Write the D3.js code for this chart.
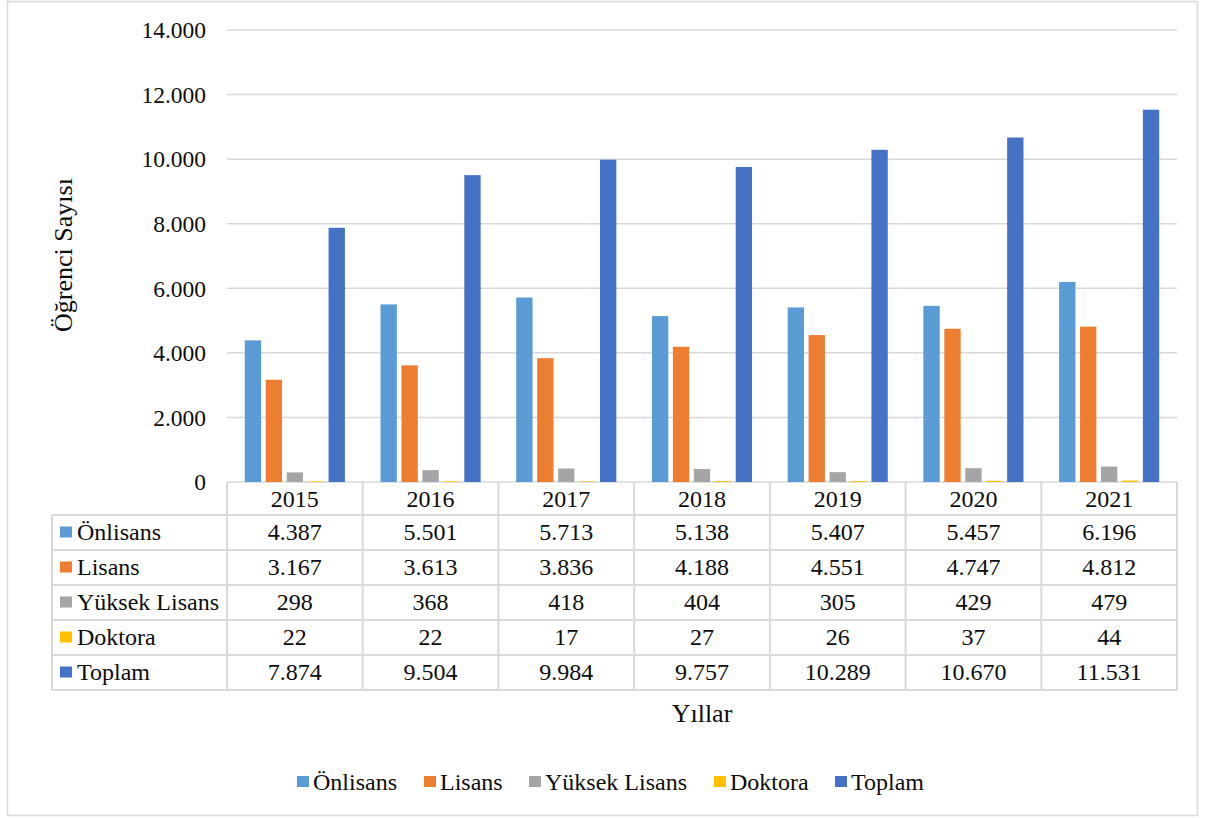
<!DOCTYPE html>
<html>
<head>
<meta charset="utf-8">
<script src="https://cdn.jsdelivr.net/npm/d3@7"></script>
<style>
  body { margin: 0; background: #fff; }
  text { font-family: "Liberation Serif", "Times New Roman", serif; }
</style>
</head>
<body>
<svg id="chart" width="1205" height="818"></svg>
<script>
const years = ["2015", "2016", "2017", "2018", "2019", "2020", "2021"];
const seriesNames = ["Önlisans", "Lisans", "Yüksek Lisans", "Doktora", "Toplam"];
const seriesColors = ["#5B9BD5", "#ED7D31", "#A5A5A5", "#FFC000", "#4472C4"];
const onlisans = [4387, 5501, 5713, 5138, 5407, 5457, 6196];
const lisans = [3167, 3613, 3836, 4188, 4551, 4747, 4812];
const yuksekLisans = [298, 368, 418, 404, 305, 429, 479];
const doktora = [22, 22, 17, 27, 26, 37, 44];
const toplam = [7874, 9504, 9984, 9757, 10289, 10670, 11531];
const yTicks = [0, 2000, 4000, 6000, 8000, 10000, 12000, 14000];

const allSeries = [onlisans, lisans, yuksekLisans, doktora, toplam];
const fmt = v => v.toLocaleString("tr-TR");
const FONT = "Liberation Serif, Times New Roman, serif";
const INK = "#0d0d0d";

const svg = d3.select("#chart");

// chart border
svg.append("rect")
  .attr("x", 7.5).attr("y", 1.5).attr("width", 1190).attr("height", 814)
  .attr("fill", "#fff").attr("stroke", "#d9d9d9").attr("stroke-width", 1.5);

const plot = { left: 227, right: 1177, top: 30, bottom: 482 };

const x = d3.scaleBand().domain(years).range([plot.left, plot.right]).paddingInner(0).paddingOuter(0);
const xs = d3.scaleBand().domain(seriesNames).range([0, x.bandwidth()]).paddingInner(0.22).paddingOuter(0.85);
const y = d3.scaleLinear().domain([0, 14000]).range([plot.bottom, plot.top]);

// gridlines
svg.append("g").selectAll("line").data(yTicks).join("line")
  .attr("x1", plot.left).attr("x2", plot.right)
  .attr("y1", d => y(d)).attr("y2", d => y(d))
  .attr("stroke", "#d9d9d9").attr("stroke-width", 1.5);

// y tick labels
svg.append("g").selectAll("text").data(yTicks).join("text")
  .attr("x", 206).attr("y", d => y(d)).attr("dy", "0.35em")
  .attr("text-anchor", "end").attr("font-family", FONT).attr("font-size", 23.5).attr("fill", INK)
  .text(d => fmt(d));

// y title
svg.append("text")
  .attr("transform", "translate(72,255) rotate(-90)")
  .attr("text-anchor", "middle").attr("font-family", FONT).attr("font-size", 26).attr("fill", INK)
  .text("Öğrenci Sayısı");

// bars
const groups = svg.append("g").selectAll("g").data(years).join("g")
  .attr("transform", d => `translate(${x(d)},0)`);
groups.selectAll("rect")
  .data((d, i) => seriesNames.map((s, k) => ({ s, k, v: allSeries[k][i] })))
  .join("rect")
  .attr("x", d => xs(d.s)).attr("width", xs.bandwidth())
  .attr("y", d => y(d.v)).attr("height", d => y(0) - y(d.v))
  .attr("fill", d => seriesColors[d.k]);

// data table
const rowH = 35, headH = 33;
const tableLeft = 52;
const tbl = svg.append("g");
const lineColor = "#d9d9d9";
const tableBottom = plot.bottom + headH + rowH * seriesNames.length;

const hLines = [plot.bottom + headH].concat(d3.range(1, seriesNames.length + 1).map(i => plot.bottom + headH + rowH * i));
tbl.selectAll("line.h").data(hLines).join("line")
  .attr("x1", tableLeft).attr("x2", plot.right)
  .attr("y1", d => d).attr("y2", d => d)
  .attr("stroke", lineColor).attr("stroke-width", 2);
const vLines = years.map(yr => x(yr)).concat([plot.right]);
tbl.selectAll("line.v").data(vLines).join("line")
  .attr("x1", d => d).attr("x2", d => d)
  .attr("y1", plot.bottom).attr("y2", tableBottom)
  .attr("stroke", lineColor).attr("stroke-width", 2);
tbl.append("line")
  .attr("x1", tableLeft).attr("x2", tableLeft)
  .attr("y1", plot.bottom + headH).attr("y2", tableBottom)
  .attr("stroke", lineColor).attr("stroke-width", 2);

// header labels
tbl.selectAll("text.yr").data(years).join("text")
  .attr("x", d => x(d) + x.bandwidth() / 2).attr("y", plot.bottom + headH / 2 + 1)
  .attr("dy", "0.33em").attr("text-anchor", "middle")
  .attr("font-family", FONT).attr("font-size", 24).attr("fill", INK)
  .text(d => d);

// row labels + values
seriesNames.forEach((name, k) => {
  const cy = plot.bottom + headH + rowH * k + rowH / 2;
  tbl.append("rect").attr("x", 60).attr("y", cy - 6).attr("width", 12).attr("height", 11)
    .attr("fill", seriesColors[k]);
  tbl.append("text").attr("x", 77).attr("y", cy).attr("dy", "0.33em")
    .attr("font-family", FONT).attr("font-size", 24).attr("fill", INK).text(name);
  tbl.selectAll(null).data(allSeries[k]).join("text")
    .attr("x", (d, i) => x(years[i]) + x.bandwidth() / 2).attr("y", cy)
    .attr("dy", "0.33em").attr("text-anchor", "middle")
    .attr("font-family", FONT).attr("font-size", 24).attr("fill", INK)
    .text(d => fmt(d));
});

// x title
svg.append("text")
  .attr("x", 702).attr("y", 722)
  .attr("text-anchor", "middle").attr("font-family", FONT).attr("font-size", 26).attr("fill", INK)
  .text("Yıllar");

// legend
const legendX = [297, 424, 529, 714, 835];
const legend = svg.append("g").selectAll("g").data(seriesNames).join("g")
  .attr("transform", (d, i) => `translate(${legendX[i]},790)`);
legend.append("rect").attr("x", 0).attr("y", -14).attr("width", 12).attr("height", 11)
  .attr("fill", (d, i) => seriesColors[i]);
legend.append("text").attr("x", 16).attr("y", 0)
  .attr("font-family", FONT).attr("font-size", 24).attr("fill", INK).text(d => d);
</script>
</body>
</html>
